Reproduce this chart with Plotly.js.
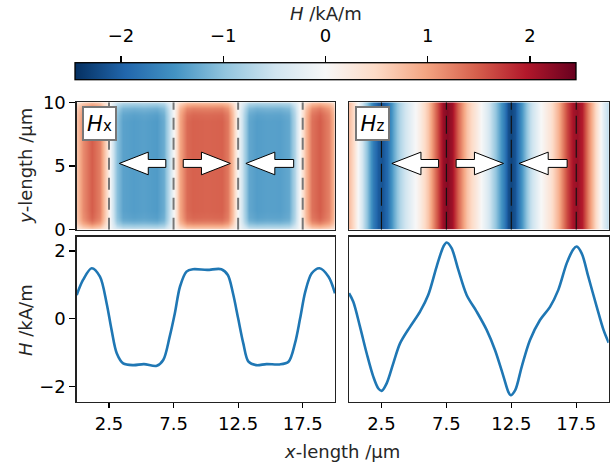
<!DOCTYPE html>
<html>
<head>
<meta charset="utf-8">
<script src="https://cdn.plot.ly/plotly-3.0.1.min.js"></script>
<style>html,body{margin:0;padding:0;background:#fff}</style>
</head>
<body>
<div id="chart" style="width:616px;height:469px"></div>
<script>
// ---- data ----
const hxX = [0, 0.5, 1.16, 1.8, 2.32, 2.7, 3.1, 3.6, 4.4, 5.2, 6.2, 6.7, 7.2, 7.6, 8.0, 8.5, 9.0, 10.1, 11.2, 11.7, 12.1, 12.5, 12.9, 13.3, 13.9, 14.7, 15.7, 16.4, 16.9, 17.3, 17.7, 18.2, 18.8, 19.5, 20];
const hxVal = [0.70, 1.15, 1.49, 1.24, 0.45, -0.33, -1.02, -1.32, -1.37, -1.34, -1.39, -1.22, -0.53, 0.16, 0.95, 1.39, 1.46, 1.44, 1.46, 1.29, 0.75, 0.01, -0.73, -1.27, -1.37, -1.34, -1.35, -1.27, -0.73, 0.01, 0.80, 1.34, 1.49, 1.24, 0.75];

const hzX = [0, 0.33, 0.85, 1.36, 1.87, 2.26, 2.52, 2.9, 3.41, 3.93, 4.7, 5.47, 6.1, 6.75, 7.27, 7.52, 7.9, 8.42, 9.06, 9.83, 10.6, 11.25, 11.9, 12.27, 12.45, 12.8, 13.3, 13.94, 14.71, 15.48, 16.12, 16.77, 17.28, 17.53, 17.92, 18.43, 19.08, 19.6, 20];
const hzVal = [0.75, 0.50, -0.24, -1.02, -1.71, -2.06, -2.13, -1.91, -1.32, -0.73, -0.24, 0.21, 0.70, 1.54, 2.13, 2.25, 2.08, 1.44, 0.70, 0.21, -0.33, -0.93, -1.71, -2.16, -2.26, -2.11, -1.42, -0.63, -0.04, 0.35, 0.85, 1.64, 2.05, 2.13, 1.93, 1.24, 0.35, -0.33, -0.71];

// y profile of the Hx map (edge fading)
const mapY = [0, 0.25, 0.5, 0.75, 1, 1.5, 8.5, 9, 9.25, 9.5, 9.75, 10];
const hxFade = [0.35, 0.6, 0.8, 0.92, 0.97, 1, 1, 0.97, 0.93, 0.85, 0.7, 0.5];
const hzY = [0, 10];

// domain walls and arrows
const wallX = [2.5, 7.5, 12.5, 17.5];
const arrowTail = [6.9, 8.25, 16.8];
const arrowTip = [3.3, 11.9, 13.1];
const arrowY = 5.2;

const xTicks = [2.5, 7.5, 12.5, 17.5];
const xTickText = ['2.5', '7.5', '12.5', '17.5'];
const cbTicks = [-2, -1, 0, 1, 2];
const hRange = [-2.45, 2.45];

// ---- build ----
const W = 616, H = 469;
const px = v => v / W, py = v => 1 - v / H;

const rdbu_r = [
  [0.0, '#053061'], [0.1, '#2166ac'], [0.2, '#4393c3'], [0.3, '#92c5de'],
  [0.4, '#d1e5f0'], [0.5, '#f7f7f7'], [0.6, '#fddbc7'], [0.7, '#f4a582'],
  [0.8, '#d6604d'], [0.9, '#b2182b'], [1.0, '#67001f']
];

const zHx = hxFade.map(f => hxVal.map(v => v * f));
const zHz = hzY.map(() => hzVal.slice());

const tickFont = {family: 'DejaVu Sans', size: 18, color: '#000'};
const titleFont = {family: 'DejaVu Sans', size: 18, color: '#262626'};
const lineBlue = '#1f77b4';

const traces = [
  {type: 'heatmap', x: hxX, y: mapY, z: zHx, coloraxis: 'coloraxis', zsmooth: 'best', xaxis: 'x', yaxis: 'y', hoverinfo: 'skip'},
  {type: 'heatmap', x: hzX, y: hzY, z: zHz, coloraxis: 'coloraxis', zsmooth: 'best', xaxis: 'x2', yaxis: 'y2', hoverinfo: 'skip'},
  {type: 'scatter', mode: 'lines', x: hxX, y: hxVal, line: {color: lineBlue, width: 2.6, shape: 'spline', smoothing: 0.9}, xaxis: 'x3', yaxis: 'y3'},
  {type: 'scatter', mode: 'lines', x: hzX, y: hzVal, line: {color: lineBlue, width: 2.6, shape: 'spline', smoothing: 0.9}, xaxis: 'x4', yaxis: 'y4'},
  {type: 'scatter', mode: 'markers', x: [], y: [], xaxis: 'x5', yaxis: 'y5', showlegend: false}
];

const frame = {showline: true, mirror: true, linecolor: '#222', linewidth: 1.3, zeroline: false, showgrid: false};
const xL = [76.7, 335], xR = [349, 608.7];
const yTop = [102.3, 229.7], yBot = [236.7, 401.7];

const layout = {
  width: W, height: H,
  margin: {l: 0, r: 0, t: 0, b: 0},
  paper_bgcolor: '#fff', plot_bgcolor: '#fff',
  showlegend: false,
  font: tickFont,
  coloraxis: {
    colorscale: rdbu_r, cmin: hRange[0], cmax: hRange[1],
    colorbar: {
      orientation: 'h', lenmode: 'pixels', len: 501, thickness: 17,
      x: px(325.5), xanchor: 'center', y: py(81), yanchor: 'bottom',
      xpad: 0, ypad: 0, outlinewidth: 1.3, outlinecolor: '#000',
      showticklabels: false, ticks: ''
    }
  },
  xaxis: Object.assign({}, frame, {domain: [px(xL[0]), px(xL[1])], range: [0, 20], anchor: 'y', showticklabels: false, ticks: '', tickvals: xTicks}),
  yaxis: Object.assign({}, frame, {domain: [py(yTop[1]), py(yTop[0])], range: [0, 10], anchor: 'x', tickvals: [0, 5, 10], ticks: 'outside', ticklen: 6, tickwidth: 1.2, tickcolor: '#000', tickfont: tickFont}),
  xaxis2: Object.assign({}, frame, {domain: [px(xR[0]), px(xR[1])], range: [0, 20], anchor: 'y2', showticklabels: false, ticks: ''}),
  yaxis2: Object.assign({}, frame, {domain: [py(yTop[1]), py(yTop[0])], range: [0, 10], anchor: 'x2', showticklabels: false, ticks: ''}),
  xaxis3: Object.assign({}, frame, {domain: [px(xL[0]), px(xL[1])], range: [0, 20], anchor: 'y3', tickvals: xTicks, ticktext: xTickText, ticks: 'outside', ticklen: 5, tickwidth: 1.2, tickcolor: '#000', tickfont: tickFont}),
  yaxis3: Object.assign({}, frame, {domain: [py(yBot[1]), py(yBot[0])], range: [-2.45, 2.42], anchor: 'x3', tickvals: [-2, 0, 2], ticks: 'outside', ticklen: 6, tickwidth: 1.2, tickcolor: '#000', tickfont: tickFont}),
  xaxis4: Object.assign({}, frame, {domain: [px(xR[0]), px(xR[1])], range: [0, 20], anchor: 'y4', tickvals: xTicks, ticktext: xTickText, ticks: 'outside', ticklen: 5, tickwidth: 1.2, tickcolor: '#000', tickfont: tickFont}),
  yaxis4: Object.assign({}, frame, {domain: [py(yBot[1]), py(yBot[0])], range: [-2.45, 2.42], anchor: 'x4', showticklabels: false, ticks: ''}),
  xaxis5: {domain: [px(75), px(576)], range: hRange, anchor: 'y5', side: 'top', showline: false, showgrid: false, zeroline: false, tickvals: cbTicks, ticks: 'outside', ticklen: 7, tickwidth: 1.2, tickcolor: '#000', tickfont: tickFont, ticklabelstandoff: 7},
  yaxis5: {domain: [py(81), py(64)], range: [0, 1], anchor: 'x5', visible: false, showgrid: false, zeroline: false},
  shapes: [],
  annotations: []
};

// dashed domain walls
wallX.forEach(xv => {
  layout.shapes.push({type: 'line', xref: 'x', yref: 'y', x0: xv, x1: xv, y0: 0, y1: 10, line: {color: '#777', width: 2, dash: '12px,8px'}, layer: 'above'});
  layout.shapes.push({type: 'line', xref: 'x2', yref: 'y2', x0: xv, x1: xv, y0: 0, y1: 10, line: {color: '#111', width: 1.1, dash: '18px,6px'}, layer: 'above'});
});

// block arrows
function arrowPath(tail, tip, yc) {
  const headLen = 2.24, headHalf = 0.89, shaftHalf = 0.31;
  const dir = tip > tail ? 1 : -1;
  const base = tip - dir * headLen;
  return `M${tail},${yc - shaftHalf} L${base},${yc - shaftHalf} L${base},${yc - headHalf} L${tip},${yc} L${base},${yc + headHalf} L${base},${yc + shaftHalf} L${tail},${yc + shaftHalf} Z`;
}
['x', 'x2'].forEach((xr, k) => {
  const yr = k === 0 ? 'y' : 'y2';
  arrowTail.forEach((t, i) => {
    layout.shapes.push({type: 'path', xref: xr, yref: yr, path: arrowPath(t, arrowTip[i], arrowY), fillcolor: '#fff', line: {color: '#000', width: 1}, layer: 'above'});
  });
});

// panel labels
const boxCenters = [[99.7, 123.7, 'x'], [372, 123.7, 'z']];
boxCenters.forEach(([cx, cy, s]) => {
  layout.annotations.push({
    xref: 'paper', yref: 'paper', x: px(cx), y: py(cy), xanchor: 'center', yanchor: 'middle',
    text: `<i>H</i><span style="font-size:15px">${s}</span>`, showarrow: false,
    font: {family: 'DejaVu Sans', size: 21, color: '#000'},
    bgcolor: '#fff', bordercolor: '#777', borderwidth: 2, borderpad: 2, width: 27, height: 27
  });
});

// titles
layout.annotations.push({xref: 'paper', yref: 'paper', x: px(325.5), y: py(14), xanchor: 'center', yanchor: 'middle', text: '<i>H</i> /kA/m', showarrow: false, font: titleFont});
layout.annotations.push({xref: 'paper', yref: 'paper', x: px(342), y: py(451), xanchor: 'center', yanchor: 'middle', text: '<i>x</i>-length /µm', showarrow: false, font: titleFont});
layout.annotations.push({xref: 'paper', yref: 'paper', x: px(25), y: py(166), xanchor: 'center', yanchor: 'middle', text: '<i>y</i>-length /µm', textangle: -90, showarrow: false, font: titleFont});
layout.annotations.push({xref: 'paper', yref: 'paper', x: px(25), y: py(320), xanchor: 'center', yanchor: 'middle', text: '<i>H</i> /kA/m', textangle: -90, showarrow: false, font: titleFont});

Plotly.newPlot('chart', traces, layout, {staticPlot: true, displayModeBar: false});
</script>
</body>
</html>
